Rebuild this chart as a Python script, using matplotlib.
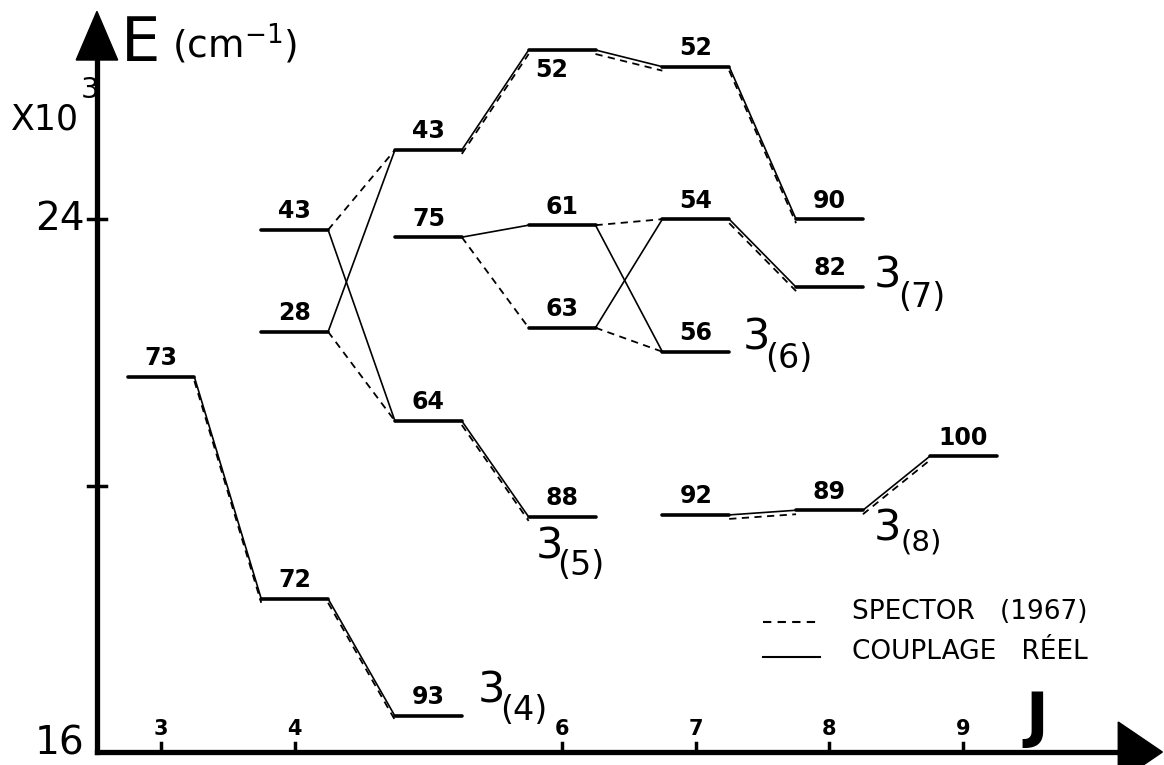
import matplotlib
matplotlib.use("Agg")
import matplotlib.pyplot as plt
from matplotlib.patches import Polygon

plt.rcParams['font.family'] = ['DejaVu Sans']

# energy levels (x 10^3 cm-1) per J
level_J = [3, 4, 4, 4, 5, 5, 5, 5, 6, 6, 6, 6, 7, 7, 7, 7, 8, 8, 8, 9]
level_E = [21.63, 23.84, 22.31, 18.30,
           25.04, 23.73, 20.97, 16.54,
           26.54, 23.91, 22.37, 19.53,
           26.29, 24.00, 22.01, 19.56,
           24.00, 22.98, 19.63,
           20.44]
level_lab = ['73', '43', '28', '72',
             '43', '75', '64', '93',
             '52', '61', '63', '88',
             '52', '54', '56', '92',
             '90', '82', '89',
             '100']

# links (index pairs) : real coupling (solid) and Spector 1967 (dashed)
links_real = [(0, 3), (3, 7), (2, 4), (1, 6), (4, 8), (6, 11), (8, 12), (12, 16),
              (5, 9), (9, 14), (10, 13), (13, 17), (15, 18), (18, 19)]
links_spector = [(0, 3), (3, 7), (1, 4), (2, 6), (4, 8), (6, 11), (8, 12), (12, 16),
                 (5, 10), (9, 13), (10, 14), (13, 17), (15, 18), (18, 19)]

tick_J = [3, 4, 6, 7, 8, 9]
ytick_E = [24, 20]

groups = ['(4)', '(5)', '(6)', '(7)', '(8)']
group_3 = [(5.37, 16.75), (5.80, 18.91), (7.35, 22.04), (8.33, 22.98), (8.33, 19.18)]
group_sub = [(5.54, 16.48), (5.96, 18.66), (7.52, 21.77), (8.51, 22.68), (8.53, 19.02)]
group_subsize = [24, 24, 24, 24, 21]

hw = 0.25  # half width of a level
off = 0.06  # small shift of dashed lines that follow the solid ones

fig = plt.figure(figsize=(11.64, 7.65), dpi=100)
ax = fig.add_axes([0, 0, 1, 1])
ax.set_xlim(1.796, 10.502)
ax.set_ylim(15.805, 27.291)
ax.axis('off')

# levels
for j, e, lab in zip(level_J, level_E, level_lab):
    ax.plot([j - hw, j + hw], [e, e], color='black', lw=2.6, solid_capstyle='round')
    if lab == '52' and j == 6:
        ax.text(j - 0.08, e - 0.12, lab, ha='center', va='top', fontsize=17, fontweight='bold')
    else:
        ax.text(j, e + 0.1, lab, ha='center', va='bottom', fontsize=17, fontweight='bold')

for a, b in links_real:
    ax.plot([level_J[a] + hw, level_J[b] - hw], [level_E[a], level_E[b]],
            color='black', lw=1.2)

for a, b in links_spector:
    d = off if (a, b) in links_real else 0
    ax.plot([level_J[a] + hw, level_J[b] - hw], [level_E[a] - d, level_E[b] - d],
            color='black', lw=1.3, ls=(0, (4, 3)))

# axes with arrows
yx = 2.521
ax.plot([yx, yx], [16, 26.5], color='black', lw=3.8)
ax.plot([yx, 10.2], [16, 16], color='black', lw=3.8)
ax.add_patch(Polygon([[yx - 0.155, 26.39], [yx + 0.155, 26.39], [yx, 27.12]], color='black'))
ax.add_patch(Polygon([[10.16, 16.45], [10.16, 15.55], [10.49, 16]], color='black', clip_on=False))

for e in ytick_E:
    ax.plot([yx - 0.07, yx + 0.07], [e, e], color='black', lw=2.5)
ax.text(2.43, 23.84, '24', ha='right', va='baseline', fontsize=28)
ax.text(2.43, 15.97, '16', ha='right', va='baseline', fontsize=28)

for j in tick_J:
    ax.plot([j, j], [16, 16.13], color='black', lw=2.5)
    ax.text(j, 16.19, str(j), ha='center', va='bottom', fontsize=15, fontweight='bold')

ax.text(2.70, 26.375, 'E', ha='left', va='baseline', fontsize=45)
ax.text(3.08, 26.435, '(cm$^{-1}$)', ha='left', va='baseline', fontsize=27)
ax.text(1.88, 25.34, 'X10', ha='left', va='baseline', fontsize=25)
ax.text(2.40, 25.82, '3', ha='left', va='baseline', fontsize=21)
ax.text(9.55, 16.5, 'J', ha='center', va='center', fontsize=44, fontweight='bold')

for g, (x3, y3), (xs, ys), fs in zip(groups, group_3, group_sub, group_subsize):
    ax.text(x3, y3, '3', ha='left', va='baseline', fontsize=31)
    ax.text(xs, ys, g, ha='left', va='baseline', fontsize=fs)

# legend
ax.plot([7.50, 7.93], [17.95, 17.95], color='black', lw=1.5, ls=(0, (4, 3)))
ax.plot([7.50, 7.93], [17.43, 17.43], color='black', lw=1.5)
ax.text(8.17, 18.1, 'SPECTOR   (1967)', ha='left', va='center', fontsize=19)
ax.text(8.17, 17.5, 'COUPLAGE   RÉEL', ha='left', va='center', fontsize=19)

fig.savefig('out.png', dpi=100)
